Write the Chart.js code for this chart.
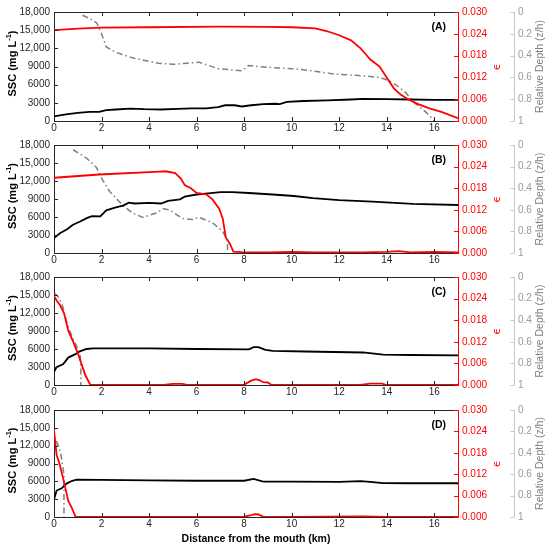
<!DOCTYPE html>
<html>
<head>
<meta charset="utf-8">
<script src="https://cdn.jsdelivr.net/npm/chart.js@4"></script>
<style>
  body { margin: 0; background: #fff; width: 550px; height: 549px; position: relative; overflow: hidden; }
  canvas { position: absolute; left: 0; }
</style>
</head>
<body>
<canvas id="pA" width="550" height="134" style="top:0px"></canvas>
<canvas id="pB" width="550" height="134" style="top:133px"></canvas>
<canvas id="pC" width="550" height="134" style="top:265px"></canvas>
<canvas id="pD" width="550" height="151" style="top:398px"></canvas>
<script>
// axis ticks
const xTicks = [0, 2, 4, 6, 8, 10, 12, 14, 16];
const sscTicks = [0, 3000, 6000, 9000, 12000, 15000, 18000];
const epsTicks = [0, 0.006, 0.012, 0.018, 0.024, 0.030];
const depthTicks = [0, 0.2, 0.4, 0.6, 0.8, 1];

// (A)
const sscA_x = [0, 0.5, 1, 1.5, 1.9, 2.2, 2.6, 3.2, 3.8, 4.5, 5.2, 5.8, 6.4, 6.9, 7.2, 7.6, 7.9, 8.3, 8.8, 9.3, 9.5, 9.8, 10.5, 11.5, 12.5, 13.0, 14.0, 15.0, 16.0, 17.0];
const sscA_y = [750, 1100, 1350, 1500, 1500, 1800, 1900, 2050, 1950, 1900, 2000, 2100, 2100, 2300, 2600, 2600, 2400, 2600, 2800, 2850, 2800, 3150, 3300, 3400, 3550, 3650, 3620, 3550, 3500, 3480];
const epsA_x = [0, 1, 2, 4, 7, 9, 10, 11, 11.5, 12, 12.5, 12.9, 13.1, 13.3, 13.7, 14.0, 14.3, 14.6, 14.9, 15.3, 15.8, 16.3, 17];
const epsA_y = [0.0250, 0.0254, 0.0257, 0.0258, 0.0260, 0.0259, 0.0258, 0.0255, 0.0247, 0.0236, 0.0222, 0.0200, 0.0185, 0.0170, 0.0150, 0.0120, 0.0090, 0.0072, 0.0060, 0.0047, 0.0035, 0.0025, 0.0008];
const depA_x = [1.2, 1.5, 1.8, 2.0, 2.2, 2.6, 3.3, 4.4, 5.0, 5.6, 6.1, 6.5, 6.9, 7.9, 8.2, 8.6, 9.2, 10.0, 10.5, 11.2, 11.8, 12.7, 13.7, 14.1, 14.4, 14.8, 15.1, 15.5, 15.8, 16.0];
const depA_y = [0.03, 0.06, 0.10, 0.20, 0.32, 0.37, 0.42, 0.47, 0.48, 0.47, 0.46, 0.49, 0.52, 0.54, 0.49, 0.50, 0.51, 0.52, 0.53, 0.55, 0.57, 0.58, 0.60, 0.63, 0.67, 0.74, 0.82, 0.89, 0.95, 1.0];

// (B)
const sscB_x = [0, 0.25, 0.55, 0.8, 1.1, 1.4, 1.6, 1.95, 2.2, 2.6, 2.9, 3.15, 3.4, 4.0, 4.5, 4.8, 5.3, 5.5, 6.0, 6.5, 7.0, 7.5, 8.2, 9.2, 10.1, 10.9, 12.0, 13.4, 15.1, 17];
const sscB_y = [2500, 3300, 3950, 4700, 5250, 5850, 6150, 6100, 7100, 7600, 7900, 8400, 8250, 8350, 8250, 8700, 8950, 9400, 9750, 9950, 10150, 10150, 10000, 9750, 9500, 9150, 8800, 8550, 8180, 8000];
const epsB_x = [0, 1.9, 4.45, 4.7, 5.1, 5.34, 5.5, 5.76, 6.0, 6.4, 6.67, 6.95, 7.1, 7.23, 7.4, 7.55, 8, 9, 10, 11, 12, 13, 14, 14.5, 15, 16, 17];
const epsB_y = [0.0209, 0.0218, 0.0226, 0.0227, 0.0222, 0.0207, 0.0189, 0.0180, 0.0167, 0.0163, 0.0149, 0.0123, 0.0096, 0.0043, 0.0026, 0.0004, 0.0002, 0.0002, 0.0003, 0.0002, 0.0002, 0.0002, 0.0003, 0.0005, 0.0002, 0.0003, 0.0002];
const depB_x = [0.8, 1.35, 1.78, 2.05, 2.34, 2.9, 3.3, 3.74, 4.3, 4.6, 4.85, 5.4, 5.83, 6.1, 6.67, 7.1, 7.3, 7.3];
const depB_y = [0.044, 0.118, 0.206, 0.325, 0.43, 0.56, 0.63, 0.67, 0.63, 0.59, 0.60, 0.68, 0.69, 0.67, 0.72, 0.80, 0.885, 1.0];

// (C)
const sscC_x = [0, 0.11, 0.39, 0.6, 0.88, 1.09, 1.37, 1.65, 4, 6, 8.2, 8.4, 8.6, 8.9, 9.2, 10.6, 13.0, 13.85, 15, 17];
const sscC_y = [2180, 2970, 3500, 4570, 5100, 5620, 6000, 6100, 6100, 6000, 5950, 6300, 6300, 5850, 5680, 5580, 5420, 5050, 5000, 4940];
const epsC_x = [0, 0.11, 0.25, 0.42, 0.6, 0.81, 1.02, 1.16, 1.32, 1.53, 4.6, 5.0, 5.4, 5.6, 8.0, 8.3, 8.5, 8.65, 8.8, 9.0, 9.15, 12.9, 13.3, 13.8, 14.0, 17];
const epsC_y = [0.0247, 0.0235, 0.0222, 0.0200, 0.0151, 0.0120, 0.0085, 0.0058, 0.0027, 0, 0, 0.0003, 0.0003, 0, 0.0001, 0.0012, 0.0016, 0.0013, 0.0008, 0.0007, 0, 0, 0.0004, 0.0004, 0, 0];
const depC_x = [0.03, 0.2, 0.35, 0.55, 0.7, 0.85, 1.0, 1.1, 1.13, 1.13];
const depC_y = [0.15, 0.19, 0.26, 0.43, 0.52, 0.6, 0.66, 0.72, 0.85, 1.0];

// (D)
const sscD_x = [0, 0.11, 0.32, 0.53, 0.74, 0.95, 2, 4, 6, 8.0, 8.4, 8.8, 10, 12, 12.9, 13.3, 13.85, 15, 17];
const sscD_y = [2940, 4450, 4820, 5620, 6050, 6270, 6250, 6150, 6100, 6100, 6400, 5950, 5950, 5900, 6050, 5900, 5700, 5680, 5680];
const epsD_x = [0, 0.11, 0.22, 0.39, 0.6, 0.74, 0.91, 4, 8, 8.3, 8.45, 8.6, 8.8, 10, 13, 14, 17];
const epsD_y = [0.0244, 0.0174, 0.0152, 0.0107, 0.0045, 0.0027, 0, 0, 0.0001, 0.0005, 0.0008, 0.0007, 0.0001, 0, 0.0002, 0, 0];
const depD_x = [0.1, 0.18, 0.28, 0.36, 0.42, 0.42];
const depD_y = [0.29, 0.33, 0.40, 0.52, 0.6, 1.0];

const FONT = "'Liberation Sans', Arial, sans-serif";
const AXIS = '#262626';
const RED = '#ff0000';
const GRAY = '#808080';
const GRAY_AXIS = '#c8c8c8';
const GRAY_TEXT = '#999999';

function pts(xs, ys) {
  return xs.map((x, i) => ({ x: x, y: ys[i] }));
}

function fmtSSC(v) {
  return v >= 10000 ? v.toLocaleString('en-US') : String(v);
}

// rotated (bottom-to-top) text, made of pieces so the superscript can sit higher
function vText(ctx, x, y, parts) {
  ctx.save();
  ctx.translate(x, y);
  ctx.rotate(-Math.PI / 2);
  ctx.textBaseline = 'middle';
  ctx.textAlign = 'left';
  let total = 0;
  parts.forEach(p => { ctx.font = p.font; total += ctx.measureText(p.text).width; });
  let cx = -total / 2;
  parts.forEach(p => {
    ctx.font = p.font;
    ctx.fillStyle = p.color;
    ctx.fillText(p.text, cx, p.dy || 0);
    cx += ctx.measureText(p.text).width;
  });
  ctx.restore();
}

const decor = {
  id: 'decor',
  afterDraw(chart, args, opts) {
    const { ctx, chartArea: a, scales } = chart;
    const mid = (a.top + a.bottom) / 2;
    ctx.save();
    ctx.lineWidth = 1;
    // top edge of the box
    ctx.strokeStyle = AXIS;
    ctx.beginPath();
    ctx.moveTo(a.left, a.top + 0.5);
    ctx.lineTo(a.right, a.top + 0.5);
    ctx.stroke();
    // inward ticks
    ctx.beginPath();
    xTicks.forEach(v => {
      const px = Math.round(scales.x.getPixelForValue(v)) + 0.5;
      ctx.moveTo(px, a.bottom); ctx.lineTo(px, a.bottom - 4);
      ctx.moveTo(px, a.top); ctx.lineTo(px, a.top + 4);
    });
    sscTicks.forEach(v => {
      const py = Math.round(scales.y.getPixelForValue(v)) + 0.5;
      ctx.moveTo(a.left, py); ctx.lineTo(a.left + 4, py);
    });
    ctx.stroke();
    ctx.strokeStyle = RED;
    ctx.beginPath();
    epsTicks.forEach(v => {
      const py = Math.round(scales.y1.getPixelForValue(v)) + 0.5;
      ctx.moveTo(a.right, py); ctx.lineTo(a.right - 4, py);
    });
    ctx.stroke();
    // faint depth axis line with ticks pointing left
    const gx = scales.y2.left + 2.5;
    ctx.strokeStyle = GRAY_AXIS;
    ctx.beginPath();
    ctx.moveTo(gx, a.top); ctx.lineTo(gx, a.bottom);
    depthTicks.forEach(v => {
      const py = Math.round(scales.y2.getPixelForValue(v)) + 0.5;
      ctx.moveTo(gx, py); ctx.lineTo(gx - 4, py);
    });
    ctx.stroke();

    // axis titles
    const bold = 'bold 11px ' + FONT;
    vText(ctx, 13, mid - 3, [
      { text: 'SSC (mg L', font: bold, color: '#000' },
      { text: '-1', font: 'bold 7.5px ' + FONT, color: '#000', dy: -4 },
      { text: ')', font: bold, color: '#000' }
    ]);
    vText(ctx, 497, mid, [{ text: '\u03f5', font: "11px 'DejaVu Sans', sans-serif", color: RED }]);
    vText(ctx, 540, mid, [{ text: 'Relative Depth (z/h)', font: '10.5px ' + FONT, color: GRAY }]);

    // panel letter
    ctx.fillStyle = '#000';
    ctx.font = 'bold 10.5px ' + FONT;
    ctx.textAlign = 'right';
    ctx.textBaseline = 'middle';
    ctx.fillText(opts.label, a.right - 12, a.top + 15);

    if (opts.xTitle) {
      ctx.textAlign = 'center';
      ctx.fillText(opts.xTitle, (a.left + a.right) / 2, chart.height - 10);
    }
    ctx.restore();
  }
};

function makePanel(id, label, xH, ssc, eps, dep, xTitle) {
  const tickFont = { family: FONT, size: 10 };
  return new Chart(document.getElementById(id), {
    type: 'line',
    data: {
      datasets: [
        { data: eps, yAxisID: 'y1', borderColor: RED, borderWidth: 1.8 },
        { data: ssc, yAxisID: 'y', borderColor: '#000', borderWidth: 1.8 },
        { data: dep, yAxisID: 'y2', borderColor: GRAY, borderWidth: 1.5, borderDash: [6, 3, 1.5, 3] }
      ]
    },
    options: {
      responsive: false,
      animation: false,
      devicePixelRatio: 1,
      layout: { padding: { top: 7, left: 0, right: 0, bottom: 0 } },
      elements: { point: { radius: 0 }, line: { tension: 0 } },
      plugins: {
        legend: { display: false },
        tooltip: { enabled: false },
        decor: { label: label, xTitle: xTitle }
      },
      scales: {
        x: {
          type: 'linear', min: 0, max: 17,
          ticks: { stepSize: 2, includeBounds: false, color: AXIS, font: tickFont, padding: 1, maxRotation: 0 },
          grid: { display: false, drawTicks: false },
          border: { color: AXIS },
          afterFit: s => { s.height = xH; }
        },
        y: {
          position: 'left', min: 0, max: 18000,
          afterBuildTicks: s => { s.ticks = sscTicks.map(v => ({ value: v })); },
          ticks: { callback: fmtSSC, color: AXIS, font: tickFont, padding: 4 },
          grid: { display: false, drawTicks: false },
          border: { color: AXIS },
          afterFit: s => { s.width = 54; }
        },
        y1: {
          position: 'right', min: 0, max: 0.03,
          afterBuildTicks: s => { s.ticks = epsTicks.map(v => ({ value: v })); },
          ticks: { callback: v => v.toFixed(3), color: RED, font: tickFont, padding: 4 },
          grid: { display: false, drawTicks: false },
          border: { color: RED },
          afterFit: s => { s.width = 54; }
        },
        y2: {
          position: 'right', min: 0, max: 1, reverse: true,
          afterBuildTicks: s => { s.ticks = depthTicks.map(v => ({ value: v })); },
          ticks: { callback: v => String(+v.toFixed(1)), color: GRAY_TEXT, font: tickFont, padding: 6 },
          grid: { display: false, drawTicks: false },
          border: { display: false },
          afterFit: s => { s.width = 38; }
        }
      }
    },
    plugins: [decor]
  });
}

makePanel('pA', '(A)', 13, pts(sscA_x, sscA_y), pts(epsA_x, epsA_y), pts(depA_x, depA_y));
makePanel('pB', '(B)', 14, pts(sscB_x, sscB_y), pts(epsB_x, epsB_y), pts(depB_x, depB_y));
makePanel('pC', '(C)', 14, pts(sscC_x, sscC_y), pts(epsC_x, epsC_y), pts(depC_x, depC_y));
makePanel('pD', '(D)', 32, pts(sscD_x, sscD_y), pts(epsD_x, epsD_y), pts(depD_x, depD_y), 'Distance from the mouth (km)');
</script>
</body>
</html>
